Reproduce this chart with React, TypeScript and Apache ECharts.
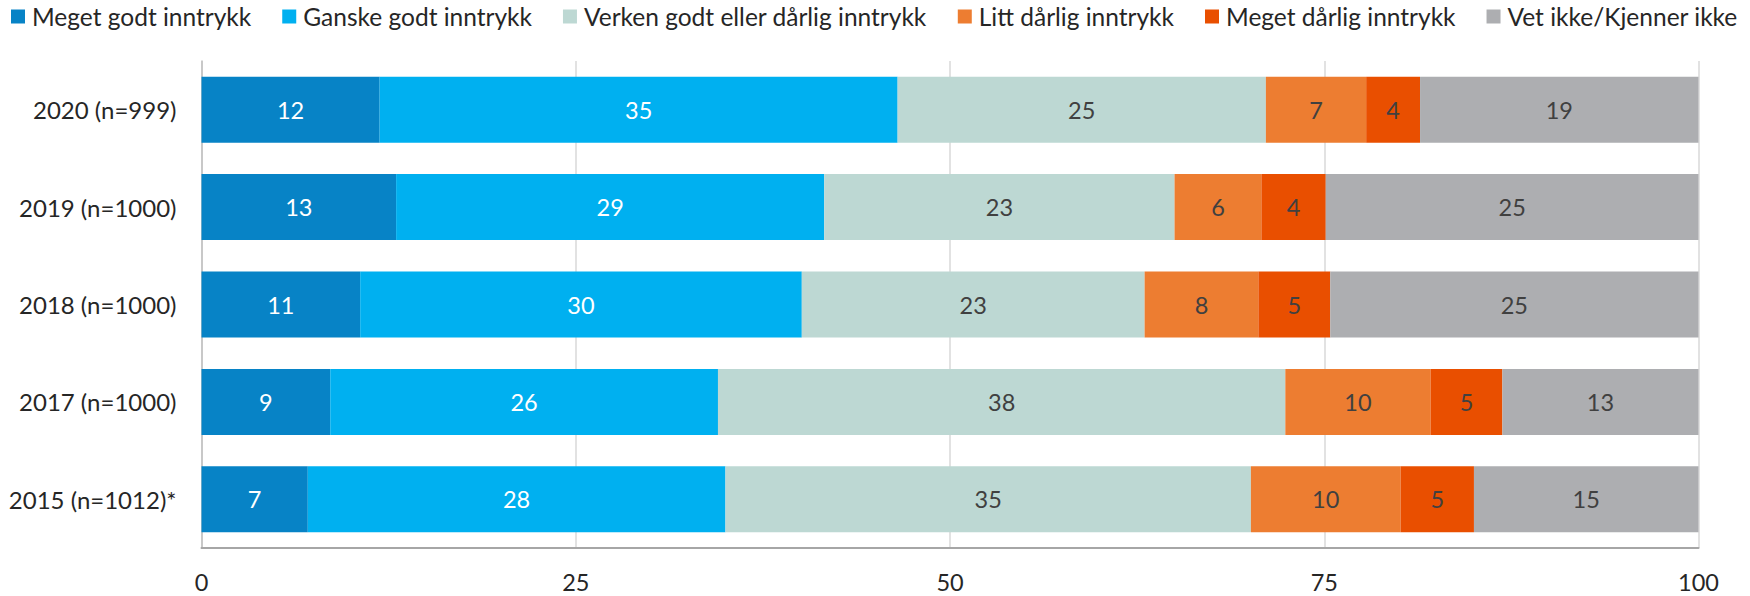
import React, { useEffect, useRef } from "react";
import * as echarts from "echarts";

const categories = ["2020 (n=999)", "2019 (n=1000)", "2018 (n=1000)", "2017 (n=1000)", "2015 (n=1012)*"];
const seriesNames = [
  "Meget godt inntrykk",
  "Ganske godt inntrykk",
  "Verken godt eller dårlig inntrykk",
  "Litt dårlig inntrykk",
  "Meget dårlig inntrykk",
  "Vet ikke/Kjenner ikke",
];
const megetGodt = [11.9, 13.0, 10.6, 8.6, 7.1];
const ganskeGodt = [34.6, 28.6, 29.5, 25.9, 27.9];
const verken = [24.6, 23.4, 22.9, 37.9, 35.1];
const littDarlig = [6.7, 5.8, 7.6, 9.7, 10.0];
const megetDarlig = [3.6, 4.3, 4.8, 4.8, 4.9];
const vetIkke = [18.6, 24.9, 24.6, 13.1, 15.0];
const xTicks = [0, 25, 50, 75, 100];

const seriesData = [megetGodt, ganskeGodt, verken, littDarlig, megetDarlig, vetIkke];
const colors = ["#0783C6", "#00B0F0", "#BDD8D3", "#ED7D31", "#E94F00", "#ADAEB1"];
const labelColors = ["#FFFFFF", "#FFFFFF", "#404040", "#404040", "#404040", "#404040"];
const FONT = "Lato";

export default function App() {
  const ref = useRef<HTMLDivElement>(null);
  useEffect(() => {
    document.body.style.margin = "0";
    if (!ref.current) return;
    const chart = echarts.init(ref.current, null, { renderer: "svg" });
    chart.setOption({
      animation: false,
      textStyle: { fontFamily: FONT },
      legend: {
        left: 11,
        top: 4,
        padding: 0,
        itemWidth: 14,
        itemHeight: 14,
        itemGap: 31,
        icon: "rect",
        textStyle: { fontFamily: FONT, fontSize: 24.5, color: "#262626", padding: [0, 0, 0, 2] },
        data: seriesNames,
      },
      grid: { left: 201.5, right: 51.5, top: 61, bottom: 48, containLabel: false },
      xAxis: {
        type: "value",
        min: xTicks[0],
        max: xTicks[xTicks.length - 1],
        interval: 25,
        axisLine: { show: true, lineStyle: { color: "#A6A6A6", width: 2 } },
        axisTick: { show: false },
        splitLine: { show: true, lineStyle: { color: "#D9D9D9", width: 1.5 } },
        axisLabel: { fontFamily: FONT, fontSize: 23.5, color: "#262626", margin: 22 },
      },
      yAxis: {
        type: "category",
        inverse: true,
        data: categories,
        axisLine: { show: true, lineStyle: { color: "#BFBFBF", width: 1.5 } },
        axisTick: { show: false },
        axisLabel: { fontFamily: FONT, fontSize: 24, color: "#262626", margin: 25 },
      },
      series: seriesData.map((d, i) => ({
        name: seriesNames[i],
        type: "bar",
        stack: "total",
        data: d,
        barWidth: 66,
        itemStyle: { color: colors[i] },
        label: {
          show: true,
          position: "inside",
          fontFamily: FONT,
          fontSize: 23.5,
          color: labelColors[i],
          formatter: (p: any) => String(Math.round(p.value)),
        },
      })),
    });
    return () => chart.dispose();
  }, []);
  return <div ref={ref} style={{ width: 1750, height: 596 }} />;
}
